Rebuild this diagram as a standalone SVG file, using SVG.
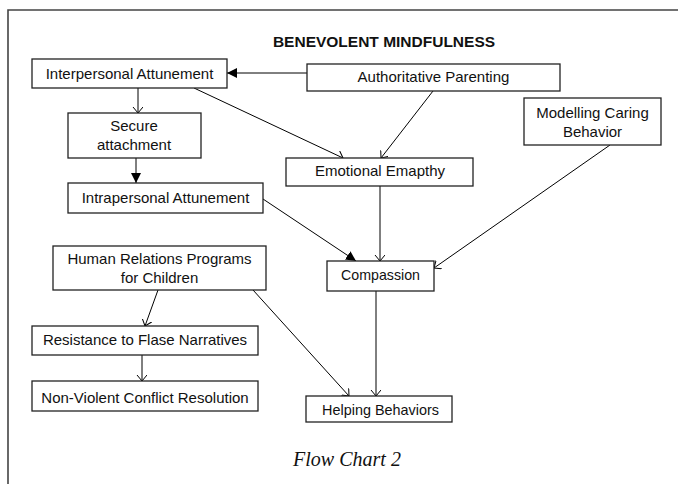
<svg xmlns="http://www.w3.org/2000/svg" width="678" height="484" viewBox="0 0 678 484">
<defs>
<marker id="open" markerUnits="userSpaceOnUse" markerWidth="12" markerHeight="12" refX="6" refY="5" orient="auto"><path d="M0,0 L6,5 L0,10" fill="none" stroke="#000" stroke-width="1"/></marker>
<marker id="solid" markerUnits="userSpaceOnUse" markerWidth="12" markerHeight="12" refX="10" refY="5" orient="auto"><path d="M0,0 L10,5 L0,10 z" fill="#000"/></marker>
</defs>
<style>
.box{fill:#fff;stroke:#222;stroke-width:1.3}
.t{font-family:"Liberation Sans",Arial,sans-serif;font-size:15px;fill:#111;text-anchor:middle}
.e{fill:none;stroke:#000;stroke-width:1}
.o{marker-end:url(#open)}
.s{marker-end:url(#solid)}
</style>
<rect width="678" height="484" fill="#fff"/>
<path d="M678,10 H8 V484" fill="none" stroke="#444" stroke-width="1.6"/>
<text x="384" y="47" font-family="'Liberation Sans',Arial,sans-serif" font-size="15.5" font-weight="bold" text-anchor="middle" fill="#111">BENEVOLENT MINDFULNESS</text>
<g id="connectors">
<line class="e s" x1="307" y1="73" x2="227" y2="73"/>
<line class="e o" x1="138" y1="88" x2="138" y2="113"/>
<line class="e s" x1="136" y1="158" x2="136" y2="183"/>
<line class="e o" x1="194" y1="88" x2="343" y2="158"/>
<line class="e o" x1="433" y1="91" x2="381" y2="158"/>
<line class="e o" x1="380" y1="186" x2="380" y2="261"/>
<line class="e o" x1="610" y1="145" x2="434" y2="268"/>
<line class="e s" x1="263" y1="199" x2="356" y2="261"/>
<line class="e o" x1="158" y1="290" x2="145" y2="326"/>
<line class="e o" x1="142" y1="355" x2="142" y2="381"/>
<line class="e o" x1="253" y1="290" x2="349" y2="396"/>
<line class="e o" x1="376" y1="291" x2="376" y2="396"/>
</g>
<g id="interpersonal"><rect class="box" x="32" y="59" width="195" height="29"/><text class="t" x="129.5" y="79">Interpersonal Attunement</text></g>
<g id="authoritative"><rect class="box" x="307" y="64" width="253" height="27"/><text class="t" x="433.5" y="82">Authoritative Parenting</text></g>
<g id="secure"><rect class="box" x="68" y="113" width="133" height="45"/><text class="t" x="134" y="131">Secure</text><text class="t" x="134" y="150">attachment</text></g>
<g id="intrapersonal"><rect class="box" x="68" y="183" width="195" height="30"/><text class="t" x="165.5" y="203">Intrapersonal Attunement</text></g>
<g id="emotional"><rect class="box" x="286" y="158" width="187" height="28"/><text class="t" x="380" y="176">Emotional Emapthy</text></g>
<g id="modelling"><rect class="box" x="524" y="98" width="137" height="47"/><text class="t" x="592.5" y="118">Modelling Caring</text><text class="t" x="592.5" y="137">Behavior</text></g>
<g id="compassion"><rect class="box" x="327" y="261" width="107" height="30"/><text class="t" x="380.5" y="280" style="font-size:14.2px">Compassion</text></g>
<g id="human"><rect class="box" x="53" y="246" width="213" height="44"/><text class="t" x="159.5" y="264">Human Relations Programs</text><text class="t" x="159.5" y="283">for Children</text></g>
<g id="resistance"><rect class="box" x="32" y="326" width="226" height="29"/><text class="t" x="145" y="345">Resistance to Flase Narratives</text></g>
<g id="nonviolent"><rect class="box" x="32" y="381" width="226" height="30"/><text class="t" x="145" y="403">Non-Violent Conflict Resolution</text></g>
<g id="helping"><rect class="box" x="306" y="396" width="146" height="26"/><text class="t" x="380.5" y="415" style="font-size:14.4px">Helping Behaviors</text></g>
<text x="347" y="466" font-family="'Liberation Serif','Times New Roman',serif" font-style="italic" font-size="20" text-anchor="middle" fill="#111">Flow Chart 2</text>
</svg>
